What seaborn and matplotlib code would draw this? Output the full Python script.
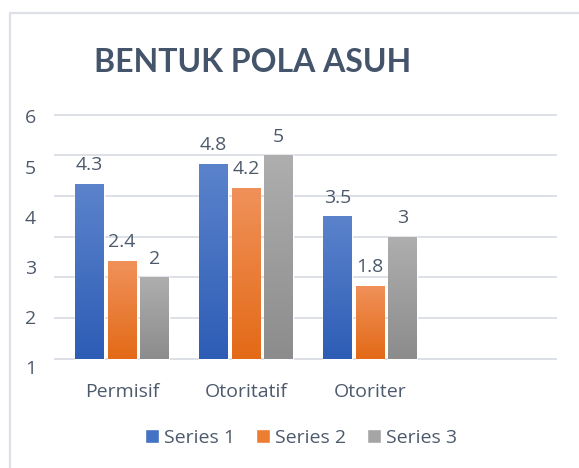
import numpy as np
import pandas as pd
import matplotlib
matplotlib.use("Agg")
import matplotlib.pyplot as plt
from matplotlib.colors import LinearSegmentedColormap
from matplotlib.lines import Line2D
import seaborn as sns

# ---------------------------------
# Data
# ---------------------------------

categories = ["Permisif", "Otoritatif", "Otoriter"]
series_names = ["Series 1", "Series 2", "Series 3"]
series_1 = [4.3, 4.8, 3.5]
series_2 = [2.4, 4.2, 1.8]
series_3 = [2, 5, 3]
ytick_labels = ["1", "2", "3", "4", "5", "6"]

df = pd.DataFrame({
    "kategori": categories * 3,
    "series": [s for s in series_names for _ in categories],
    "nilai": series_1 + series_2 + series_3,
})

base_colors = ["#4472C4", "#ED7D31", "#A5A5A5"]
grad_colors = [("#5B83CC", "#2E5DB6"), ("#F0915A", "#E36A17"), ("#AEAEAE", "#8C8C8C")]
text_color = "#4D5A6C"
fs = 14

sns.set_style("white")
plt.rcParams["font.family"] = ["Open Sans", "DejaVu Sans"]

fig = plt.figure(figsize=(5.79, 4.68), dpi=100)
ax = fig.add_axes([0.0933, 0.2073, 0.8687, 0.5491])

sns.barplot(
    data=df, x="kategori", y="nilai", hue="series",
    order=categories, hue_order=series_names,
    palette=base_colors, width=0.79, gap=0.12,
    saturation=1, ax=ax,
)

# gradient fill on each bar
for container, (top, bottom) in zip(ax.containers, grad_colors):
    cmap = LinearSegmentedColormap.from_list("g", [bottom, top])
    for bar in container:
        x, y = bar.get_x(), bar.get_y()
        w, h = bar.get_width(), bar.get_height()
        grad = np.linspace(0, 1, 100).reshape(-1, 1)
        im = ax.imshow(grad, cmap=cmap, extent=[x, x + w, y, y + h],
                       origin="lower", aspect="auto", zorder=bar.get_zorder() + 0.1)
        im.set_clip_path(bar)

for container in ax.containers:
    ax.bar_label(container, fmt="%g", padding=7, fontsize=fs, color=text_color)

ax.set_xlim(-0.55, 3.51)
ax.set_ylim(-0.3, 6.02)

# gridlines at whole values, labels where the original places them
ax.set_yticks(range(7), minor=True)
ax.set_yticks(np.linspace(-0.2, 5.96, 6))
ax.set_yticklabels(ytick_labels)
ax.grid(False)
ax.grid(which="minor", axis="y", color="#DDE0E6", linewidth=1.4)
ax.set_axisbelow(True)
ax.tick_params(axis="y", which="both", length=0, pad=13, labelsize=fs, labelcolor=text_color)
ax.tick_params(axis="x", length=0, pad=9, labelsize=fs, labelcolor=text_color)

ax.set_xlabel("")
ax.set_ylabel("")
sns.despine(ax=ax, left=True, bottom=True)

sns.move_legend(
    ax, "center", bbox_to_anchor=(0.52, 0.064), bbox_transform=fig.transFigure,
    ncol=3, frameon=False, title=None, fontsize=fs,
    handlelength=0.7, handleheight=0.7, handletextpad=0.25, columnspacing=1.1,
    labelcolor=text_color,
)

fig.text(0.437, 0.846, "BENTUK POLA ASUH", ha="center", va="baseline",
         fontsize=23, fontweight="bold", color="#44546A",
         family=["Lato", "DejaVu Sans"])

# chart frame (cut off at right and bottom in the original)
fx, fy = 10 / 579, 1 - 13 / 468
fig.add_artist(Line2D([fx, fx], [0, fy], transform=fig.transFigure,
                      color="#DDE0E6", linewidth=1.6))
fig.add_artist(Line2D([fx, 1.05], [fy, fy], transform=fig.transFigure,
                      color="#DDE0E6", linewidth=1.6))

fig.savefig("out.png", dpi=100)
